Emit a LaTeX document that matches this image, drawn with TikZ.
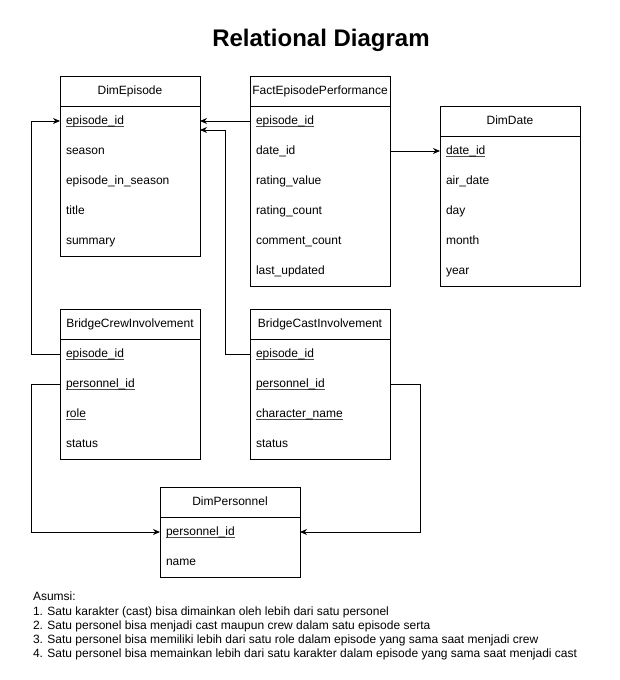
\documentclass[tikz,border=0pt]{standalone}
\usepackage{fontspec}
\setmainfont{Liberation Sans}
\usetikzlibrary{positioning,arrows.meta}
\newcommand\ukey[1]{\setbox0\hbox{#1}\rlap{\color{black!70}\vrule width\wd0 height -1.7pt depth 2.6pt}\box0}

\begin{document}
\begin{tikzpicture}[x=1pt,y=-1pt,line width=0.9pt,
  font=\fontsize{12}{14.3}\selectfont,
  hdr/.style={draw=black,minimum width=140pt,minimum height=30pt,inner sep=0pt,text height=9pt,text depth=3pt},
  row/.style={text width=128pt,inner xsep=6pt,inner ysep=0pt,minimum height=30pt,align=left,text height=9pt,text depth=3pt},
  link/.style={black,-{Stealth[length=7pt,width=6pt]}}]
\tikzstyle{every node}+=[text=black,outer sep=0pt]
\useasboundingbox (0,0) rectangle (620,680);
\node at (321,40) {\fontsize{24}{28}\selectfont\bfseries Relational Diagram};
\node [hdr] (epi) at (130,91) {DimEpisode};
\node [row,below=0pt of epi] (epi-id) {\ukey{episode\_id}};
\node [row,below=0pt of epi-id] (epi-season) {season};
\node [row,below=0pt of epi-season] (epi-ins) {episode\_in\_season};
\node [row,below=0pt of epi-ins] (epi-title) {title};
\node [row,below=0pt of epi-title] (epi-sum) {summary};
\draw (epi.north west) rectangle (epi-sum.south east);
\node [hdr] (fact) at (320,91) {FactEpisodePerformance};
\node [row,below=0pt of fact] (fact-id) {\ukey{episode\_id}};
\node [row,below=0pt of fact-id] (fact-date) {date\_id};
\node [row,below=0pt of fact-date] (fact-val) {rating\_value};
\node [row,below=0pt of fact-val] (fact-cnt) {rating\_count};
\node [row,below=0pt of fact-cnt] (fact-com) {comment\_count};
\node [row,below=0pt of fact-com] (fact-upd) {last\_updated};
\draw (fact.north west) rectangle (fact-upd.south east);
\node [hdr] (date) at (510,121) {DimDate};
\node [row,below=0pt of date] (date-id) {\ukey{date\_id}};
\node [row,below=0pt of date-id] (date-air) {air\_date};
\node [row,below=0pt of date-air] (date-day) {day};
\node [row,below=0pt of date-day] (date-month) {month};
\node [row,below=0pt of date-month] (date-year) {year};
\draw (date.north west) rectangle (date-year.south east);
\node [hdr] (crew) at (130,324) {BridgeCrewInvolvement};
\node [row,below=0pt of crew] (crew-id) {\ukey{episode\_id}};
\node [row,below=0pt of crew-id] (crew-pid) {\ukey{personnel\_id}};
\node [row,below=0pt of crew-pid] (crew-role) {\ukey{role}};
\node [row,below=0pt of crew-role] (crew-stat) {status};
\draw (crew.north west) rectangle (crew-stat.south east);
\node [hdr] (cast) at (320,324) {BridgeCastInvolvement};
\node [row,below=0pt of cast] (cast-id) {\ukey{episode\_id}};
\node [row,below=0pt of cast-id] (cast-pid) {\ukey{personnel\_id}};
\node [row,below=0pt of cast-pid] (cast-char) {\ukey{character\_name}};
\node [row,below=0pt of cast-char] (cast-stat) {status};
\draw (cast.north west) rectangle (cast-stat.south east);
\node [hdr] (pers) at (230,502) {DimPersonnel};
\node [row,below=0pt of pers] (pers-id) {\ukey{personnel\_id}};
\node [row,below=0pt of pers-id] (pers-name) {name};
\draw (pers.north west) rectangle (pers-name.south east);
\draw [link] (fact-id.west) -- (epi-id.east);
\draw [link] (cast-id.west) -- ++(-25,0) |- ([yshift=-9pt]epi-id.east);
\draw [link] (crew-id.west) -- ++(-29,0) |- (epi-id.west);
\draw [link] (crew-pid.west) -- ++(-29,0) |- (pers-id.west);
\draw [link] (cast-pid.east) -- ++(30,0) |- (pers-id.east);
\draw [link] (fact-date.east) -- (date-id.west);
\node [anchor=north west,inner sep=0pt,align=left] (notes) at (33,592) {Asumsi:\\
1. Satu karakter (cast) bisa dimainkan oleh lebih dari satu personel\\
2. Satu personel bisa menjadi cast maupun crew dalam satu episode serta\\
3. Satu personel bisa memiliki lebih dari satu role dalam episode yang sama saat menjadi crew\\
4. Satu personel bisa memainkan lebih dari satu karakter dalam episode yang sama saat menjadi cast};
\end{tikzpicture}
\end{document}
